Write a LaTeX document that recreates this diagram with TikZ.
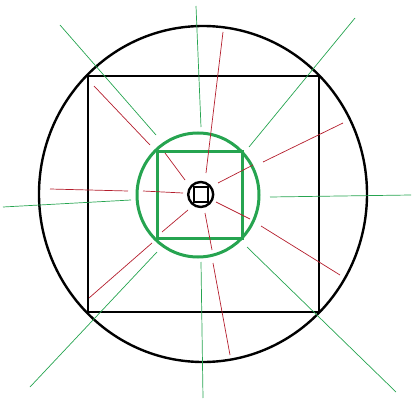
\documentclass[tikz,border=0pt]{standalone}
\definecolor{paintgreen}{RGB}{38,164,80}
\definecolor{paintred}{RGB}{180,30,45}
\begin{document}
\begin{tikzpicture}[x=1pt, y=-1pt]
    \useasboundingbox (0,0) rectangle (418,404);
    \draw[line width=2.4pt] (203,194) ellipse [x radius=164, y radius=168];
    \draw[line width=2.4pt] (88,76) rectangle (319,312);
    \draw[paintgreen, line width=3pt] (198,195) ellipse [x radius=61, y radius=62];
    \draw[paintgreen, line width=3pt] (157,151) rectangle (242,238);
    \draw[line width=2.4pt] (200.7,194.5) circle [radius=12.5];
    \draw[line width=2pt] (194,187) rectangle (208,202);

    % rays
    \foreach \xa/\ya/\xb/\yb/\edgecolor in {
      196/6/201/127/paintgreen, 60/25/156/135/paintgreen, 355/18/249/147/paintgreen,
      270/197/411/195/paintgreen, 3/207/131/200/paintgreen, 30/387/157/252/paintgreen,
      201/262/203/398/paintgreen, 247/247/396/392/paintgreen,
      206/173/223/32/paintred, 185/180/165/153/paintred, 150/145/94/86/paintred,
      218/183/253/165/paintred, 263/162/343/123/paintred, 183/193/143/191/paintred,
      128/191/50/189/paintred, 216/202/250/219/paintred, 261/226/340/275/paintred,
      205/213/212/250/paintred, 213/263/230/355/paintred, 188/210/162/232/paintred,
      152/243/89/298/paintred}
      \draw[\edgecolor, line width=0.7pt] (\xa,\ya) -- (\xb,\yb);
\end{tikzpicture}
\end{document}
